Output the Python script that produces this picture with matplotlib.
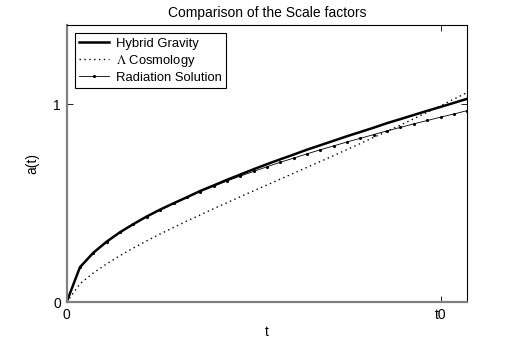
import matplotlib
matplotlib.use("Agg")
import matplotlib.pyplot as plt

plt.rcParams['font.family'] = ['Liberation Sans', 'DejaVu Sans']
plt.rcParams['mathtext.fontset'] = 'stix'

# time grid (t0 = 1)
t = [0.0, 0.0357, 0.0714, 0.107, 0.143, 0.1785, 0.214, 0.25, 0.286, 0.321,
     0.357, 0.393, 0.428, 0.464, 0.5, 0.535, 0.571, 0.607, 0.643, 0.678,
     0.714, 0.75, 0.785, 0.821, 0.857, 0.892, 0.928, 0.964, 1.0, 1.035, 1.071]

# scale factors
a_hybrid = [0.0, 0.177, 0.250, 0.306, 0.354, 0.395, 0.433, 0.468, 0.500, 0.530,
            0.562, 0.590, 0.618, 0.645, 0.672, 0.697, 0.722, 0.746, 0.771, 0.793,
            0.816, 0.839, 0.860, 0.882, 0.905, 0.925, 0.946, 0.967, 0.987, 1.007, 1.028]
a_lambda = [0.0, 0.093, 0.148, 0.194, 0.236, 0.274, 0.310, 0.345, 0.378, 0.410,
            0.441, 0.473, 0.502, 0.533, 0.563, 0.592, 0.622, 0.652, 0.682, 0.711,
            0.741, 0.772, 0.802, 0.833, 0.864, 0.895, 0.927, 0.960, 0.993, 1.026, 1.060]
a_rad = [0.0, 0.177, 0.250, 0.306, 0.354, 0.395, 0.433, 0.468, 0.500, 0.530,
         0.559, 0.586, 0.612, 0.637, 0.661, 0.684, 0.707, 0.728, 0.750, 0.770,
         0.790, 0.810, 0.828, 0.847, 0.866, 0.883, 0.901, 0.918, 0.935, 0.951, 0.968]

fig = plt.figure(figsize=(5.16, 3.41), dpi=100)
ax = fig.add_axes([0.129, 0.1135, 0.777, 0.8132])

ax.plot(t, a_hybrid, color='black', lw=1.8, label='Hybrid Gravity')
ax.plot(t, a_lambda, color='black', lw=1.0, ls=(0, (1, 2.5)), label=r'$\Lambda$ Cosmology')
ax.plot(t, a_rad, color='black', lw=0.6, marker='.', markersize=2.5, label='Radiation Solution')

ax.set_xlim(0, 1.071)
ax.set_ylim(0, 1.4)
ax.set_xticks([0, 1])
ax.set_xticklabels(['0', 't0'])
ax.set_yticks([0, 1])
ax.tick_params(direction='in', top=True, right=True, length=4, width=0.6, labelsize=10, pad=4)

for side in ['top', 'right']:
    ax.spines[side].set_linewidth(0.8)
for side in ['left', 'bottom']:
    ax.spines[side].set_color('#808080')
    ax.spines[side].set_linewidth(1.6)

ax.set_title('Comparison of the Scale factors', fontsize=10, pad=6)
ax.set_xlabel('t', fontsize=10, labelpad=2)
ax.set_ylabel('a(t)', fontsize=10, labelpad=10)

leg = ax.legend(loc='upper left', fontsize=9.4, fancybox=False, framealpha=1,
                handlelength=2.3, handletextpad=0.5, borderpad=0.35, labelspacing=0.22,
                borderaxespad=0, bbox_to_anchor=(0.02, 0.971))
leg.get_frame().set_edgecolor('black')
leg.get_frame().set_linewidth(0.8)

fig.savefig('out.png', dpi=100)
